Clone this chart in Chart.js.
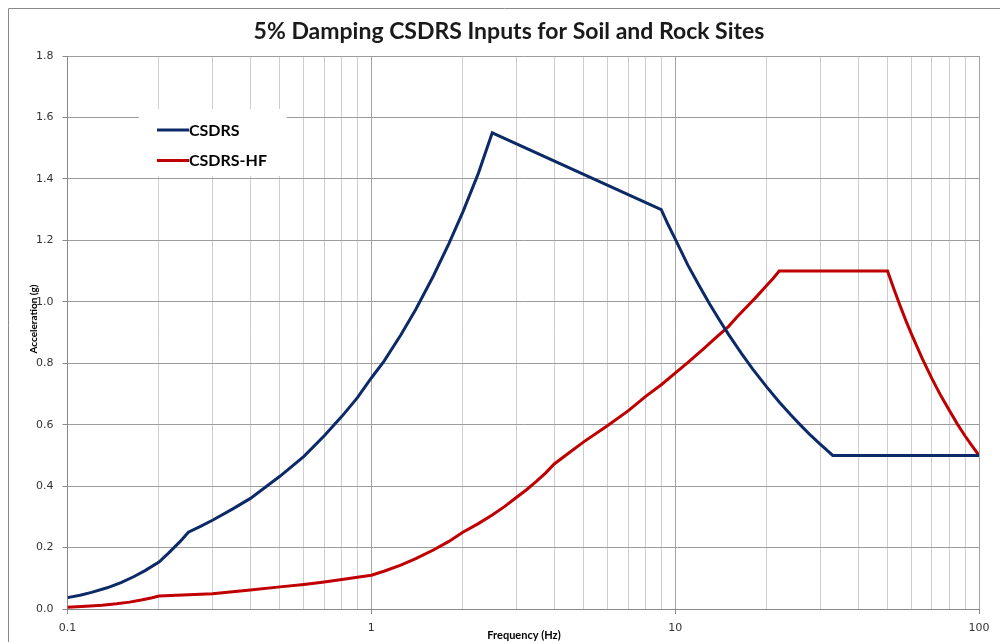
<!DOCTYPE html>
<html>
<head>
<meta charset="utf-8">
<title>5% Damping CSDRS Inputs for Soil and Rock Sites</title>
<script src="https://cdn.jsdelivr.net/npm/chart.js@4/dist/chart.umd.min.js"></script>
<style>
  html, body { margin: 0; padding: 0; background: #ffffff; }
  #wrap { width: 1000px; height: 642px; position: relative; }
</style>
</head>
<body>
<div id="wrap"><canvas id="chart" width="1000" height="642"></canvas></div>
<script>
// Spectrum: CSDRS (frequency in Hz, spectral acceleration in g)
const csdrsFreq = [0.1, 0.11, 0.12, 0.135, 0.15, 0.165, 0.18, 0.2, 0.215, 0.235, 0.25,
                   0.275, 0.3, 0.35, 0.4, 0.45, 0.5, 0.6, 0.7, 0.8, 0.9, 1.0, 1.1, 1.25, 1.4, 1.6, 1.8, 2.0, 2.25, 2.5,
                   9, 9.5, 10, 11, 12, 13, 14, 15, 16.5, 18, 20, 22, 24, 26, 28, 30, 31.5, 33, 100];
const csdrsAcc  = [0.037, 0.045, 0.054, 0.069, 0.086, 0.105, 0.125, 0.153, 0.182, 0.22, 0.25,
                   0.27, 0.289, 0.326, 0.36, 0.398, 0.432, 0.497, 0.564, 0.627, 0.688, 0.752, 0.806, 0.892, 0.975, 1.084, 1.189, 1.292, 1.418, 1.55,
                   1.30, 1.249, 1.205, 1.12, 1.052, 0.992, 0.94, 0.893, 0.833, 0.781, 0.723, 0.674, 0.632, 0.596, 0.564, 0.537, 0.518, 0.50, 0.50];

// Spectrum: CSDRS-HF
const hfFreq = [0.1, 0.115, 0.13, 0.145, 0.16, 0.175, 0.19, 0.2, 0.3, 0.4, 0.5, 0.6, 0.7, 0.8, 0.9, 1.0,
                1.1, 1.25, 1.4, 1.6, 1.8, 2.0, 2.25, 2.5, 2.75, 3.0, 3.25, 3.5, 3.75, 4.0,
                4.5, 5, 6, 7, 8, 9, 10, 11, 12.5, 13.5, 15, 16, 17.5, 18.5, 20, 21, 22,
                50, 52.5, 55, 57.5, 60, 65, 70, 75, 80, 85, 90, 95, 100];
const hfAcc  = [0.006, 0.009, 0.0125, 0.017, 0.0224, 0.029, 0.0364, 0.042, 0.05, 0.062, 0.072, 0.08, 0.088, 0.096, 0.103, 0.11,
                0.123, 0.143, 0.164, 0.192, 0.22, 0.25, 0.278, 0.306, 0.334, 0.363, 0.389, 0.416, 0.443, 0.472,
                0.51, 0.544, 0.597, 0.645, 0.692, 0.730, 0.768, 0.802, 0.850, 0.880, 0.92, 0.951, 0.991, 1.016, 1.053, 1.076, 1.10,
                1.10, 1.041, 0.987, 0.938, 0.894, 0.816, 0.75, 0.693, 0.645, 0.601, 0.563, 0.530, 0.50];

const seriesNames = ['CSDRS', 'CSDRS-HF'];
const xTickLabels = ['0.1', '1', '10', '100'];
const yTicks = [0, 0.2, 0.4, 0.6, 0.8, 1.0, 1.2, 1.4, 1.6, 1.8];

const chartTitle = '5% Damping CSDRS Inputs for Soil and Rock Sites';
const xTitle = 'Frequency (Hz)';
const yTitle = 'Acceleration (g)';

const NAVY = '#0c2a68';
const RED = '#c00000';

function toPoints(xs, ys) { return xs.map((x, i) => ({ x: x, y: ys[i] })); }
function isDecade(v) {
  const l = Math.log10(v);
  return Math.abs(l - Math.round(l)) < 1e-6;
}

// White page with the thin outer frame
const framePlugin = {
  id: 'frame',
  beforeDraw(chart) {
    const c = chart.ctx;
    c.save();
    c.fillStyle = '#ffffff';
    c.fillRect(0, 0, chart.width, chart.height);
    c.strokeStyle = '#8a8a8a';
    c.lineWidth = 1;
    c.beginPath();
    c.moveTo(8.5, chart.height + 2);
    c.lineTo(8.5, 8.5);
    c.lineTo(chart.width + 2, 8.5);
    c.stroke();
    c.restore();
  }
};

// Inset legend box in the upper left of the plot
const insetLegend = {
  id: 'insetLegend',
  beforeDatasetsDraw(chart) {
    const c = chart.ctx;
    c.save();
    c.fillStyle = '#ffffff';
    c.fillRect(139, 109, 148, 67);
    const rows = [130, 160.5];
    chart.data.datasets.forEach((ds, i) => {
      c.strokeStyle = ds.borderColor;
      c.lineWidth = 3;
      c.beginPath();
      c.moveTo(157, rows[i]);
      c.lineTo(189, rows[i]);
      c.stroke();
      c.fillStyle = '#000000';
      c.font = 'bold 16px Lato';
      c.textAlign = 'left';
      c.textBaseline = 'middle';
      c.fillText(ds.label, 189, rows[i] + 0.5);
    });
    c.restore();
  }
};

// Title and axis titles
const titles = {
  id: 'titles',
  afterDraw(chart) {
    const c = chart.ctx;
    c.save();
    c.fillStyle = '#1a1a1a';
    c.textAlign = 'center';
    c.textBaseline = 'middle';
    c.font = 'bold 23px Lato';
    c.fillText(chartTitle, 509, 32);
    c.fillStyle = '#000000';
    c.font = 'bold 11px Lato';
    c.fillText(xTitle, 524, 635);
    c.translate(34, 319);
    c.rotate(-Math.PI / 2);
    c.font = 'bold 10px Lato';
    c.fillText(yTitle, 0, 0);
    c.restore();
  }
};

const ctx = document.getElementById('chart').getContext('2d');
new Chart(ctx, {
  type: 'line',
  data: {
    datasets: [
      {
        label: seriesNames[0],
        data: toPoints(csdrsFreq, csdrsAcc),
        borderColor: NAVY,
        backgroundColor: NAVY,
        borderWidth: 3,
        pointRadius: 0,
        tension: 0,
        fill: false
      },
      {
        label: seriesNames[1],
        data: toPoints(hfFreq, hfAcc),
        borderColor: RED,
        backgroundColor: RED,
        borderWidth: 3,
        pointRadius: 0,
        tension: 0,
        fill: false
      }
    ]
  },
  options: {
    responsive: false,
    animation: false,
    devicePixelRatio: 1,
    layout: { padding: { left: 18, right: 21, top: 56, bottom: 0 } },
    plugins: {
      legend: { display: false },
      title: { display: false },
      tooltip: { enabled: false }
    },
    scales: {
      x: {
        type: 'logarithmic',
        min: 0.1,
        max: 100,
        afterFit(scale) { scale.height = 33; },
        afterBuildTicks(scale) {
          // keep every 1..9 x 10^n tick for the grid
          const t = [];
          [0.1, 1, 10].forEach(d => { for (let k = 1; k < 10; k++) t.push({ value: +(k * d).toPrecision(3) }); });
          t.push({ value: 100 });
          scale.ticks = t;
        },
        grid: {
          color: (c) => (c.tick && isDecade(c.tick.value)) ? '#a4a4a4' : '#cdcdcd',
          tickColor: (c) => (c.tick && isDecade(c.tick.value)) ? '#8a8a8a' : 'rgba(0,0,0,0)',
          tickLength: 5,
          lineWidth: 1
        },
        border: { color: '#8a8a8a', width: 1 },
        ticks: {
          autoSkip: false,
          maxRotation: 0,
          padding: 8,
          color: '#333333',
          font: { family: 'DejaVu Sans', size: 11 },
          callback: (v) => {
            if (!isDecade(v)) return '';
            const idx = Math.round(Math.log10(v)) + 1;
            return xTickLabels[idx];
          }
        }
      },
      y: {
        min: 0,
        max: 1.8,
        afterFit(scale) { scale.width = 49.5; },
        afterBuildTicks(scale) { scale.ticks = yTicks.map(v => ({ value: v })); },
        grid: {
          color: '#9c9c9c',
          tickColor: '#8a8a8a',
          tickLength: 5,
          lineWidth: 1
        },
        border: { color: '#8a8a8a', width: 1 },
        ticks: {
          padding: 9,
          color: '#333333',
          font: { family: 'DejaVu Sans', size: 11 },
          callback: (v) => Number(v).toFixed(1)
        }
      }
    }
  },
  plugins: [framePlugin, insetLegend, titles]
});
</script>
</body>
</html>
